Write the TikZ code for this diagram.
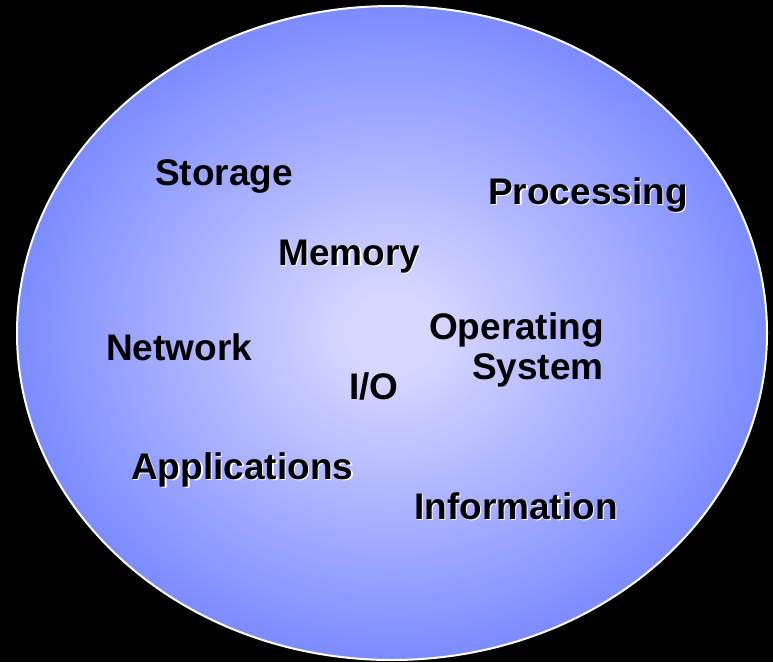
\documentclass[tikz,border=0pt]{standalone}
\usepackage{fontspec}
\setmainfont{Liberation Sans}
\definecolor{innerblue}{RGB}{214,214,255}
\definecolor{outerblue}{RGB}{124,140,255}
\pgfdeclareradialshading{discshade}{\pgfpoint{0bp}{0bp}}{color(0bp)=(innerblue); color(3bp)=(innerblue); color(25bp)=(outerblue); color(50bp)=(outerblue)}
\begin{document}
\begin{tikzpicture}[x=1pt,y=-1pt,
  lbl/.style={font=\fontsize{37}{40}\selectfont\bfseries, text=black, inner sep=0pt, anchor=base west},
  shd/.style={lbl, text=white}]
\fill[black] (0,0) rectangle (773,662);
\useasboundingbox (0,0) rectangle (773,662);
\path[shading=discshade, draw=white, line width=2pt] (392,333) ellipse [x radius=375, y radius=327];
% shadows
\node[shd] (s1) at (489.5,205.5) {Processing};
\node[shd] (s2) at (279.5,266.5) {Memory};
\node[shd] (s3) at (132.5,480.5) {Applications};
\node[shd] (s4) at (415.5,520.5) {Information};
% labels
\node[lbl] (storage) at (155,185) {Storage};
\node[lbl] (processing) at (488,204) {Processing};
\node[lbl] (memory) at (278,265) {Memory};
\node[lbl, anchor=base east] (operating) at (604,339) {Operating};
\node[lbl, anchor=base east] (system) at (604,379) {System};
\node[lbl] (network) at (106,360) {Network};
\node[lbl] (io) at (349,399) {I/O};
\node[lbl] (applications) at (131,479) {Applications};
\node[lbl] (information) at (414,519) {Information};
\end{tikzpicture}
\end{document}
